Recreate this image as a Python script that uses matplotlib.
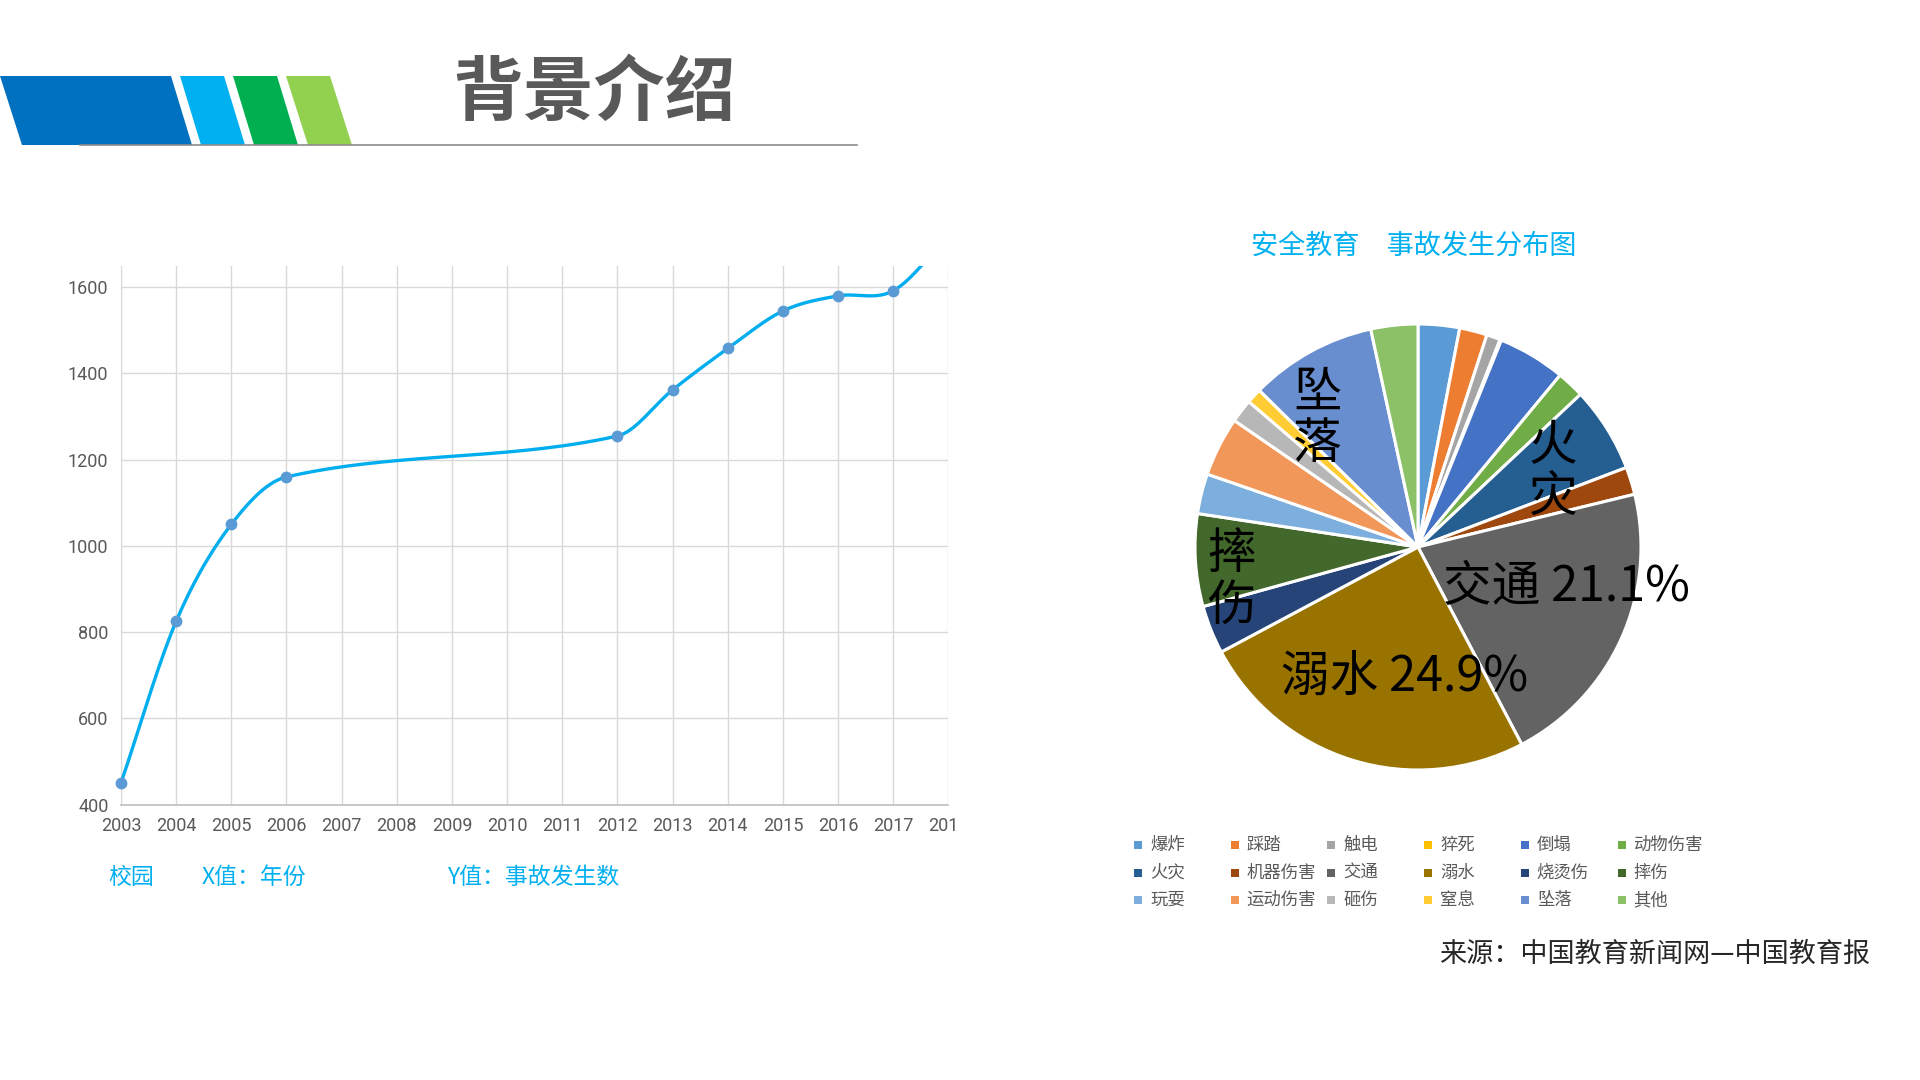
import matplotlib

matplotlib.use("Agg")
import matplotlib.pyplot as plt
import numpy as np
from matplotlib.patches import Polygon, Rectangle
from matplotlib.transforms import Bbox, TransformedBbox

plt.rcParams["font.family"] = ["Noto Sans CJK SC", "DejaVu Sans"]

# ---- data -------------------------------------------------------------
YEARS = [2003, 2004, 2005, 2006, 2012, 2013, 2014, 2015, 2016, 2017, 2018]
ACCIDENTS = [450, 825, 1050, 1160, 1255, 1362, 1458, 1545, 1580, 1592, 1720]
YEAR_TICKS = list(range(2003, 2019))
Y_TICKS = [400, 600, 800, 1000, 1200, 1400, 1600]

CATEGORIES = ["爆炸", "踩踏", "触电", "猝死", "倒塌", "动物伤害",
              "火灾", "机器伤害", "交通", "溺水", "烧烫伤", "摔伤",
              "玩耍", "运动伤害", "砸伤", "窒息", "坠落", "其他"]
SHARES = [3.0, 2.0, 1.0, 0.1, 4.9, 2.0,
          6.2, 2.0, 21.1, 24.9, 3.5, 6.7,
          2.9, 4.3, 1.7, 1.1, 9.2, 3.4]
PIE_COLORS = ["#5B9BD5", "#ED7D31", "#A5A5A5", "#FFC000", "#4472C4", "#70AD47",
              "#255E91", "#9E480E", "#636363", "#997300", "#264478", "#43682B",
              "#7CAFDD", "#F1975A", "#B7B7B7", "#FFCD33", "#698ED0", "#8CC168"]

# label anchor on the pie: (clockwise angle from 12 o'clock, radius fraction)
LABEL_POS = {
    "坠落": ("坠\n落", 322, 0.73),
    "火灾": ("火\n灾", 61, 0.69),
    "摔伤": ("摔\n伤", 260, 0.85),
    "交通": ("交通 21.1%", 105, 0.69),
    "溺水": ("溺水 24.9%", 186, 0.585),
}

BLUE_TEXT = "#00B0F0"
GREY_TEXT = "#595959"


def smooth_curve(xs, ys, n=60):
    """Smoothed line drawn through the points (cubic Hermite, y as function of x)."""
    x = np.asarray(xs, dtype=float)
    y = np.asarray(ys, dtype=float)
    m = np.empty_like(y)
    m[1:-1] = (y[2:] - y[:-2]) / (x[2:] - x[:-2])
    m[0] = (y[1] - y[0]) / (x[1] - x[0])
    m[-1] = (y[-1] - y[-2]) / (x[-1] - x[-2])
    out_x, out_y = [], []
    for i in range(len(x) - 1):
        h = x[i + 1] - x[i]
        t = np.linspace(0, 1, n)
        h00 = 2 * t ** 3 - 3 * t ** 2 + 1
        h10 = t ** 3 - 2 * t ** 2 + t
        h01 = -2 * t ** 3 + 3 * t ** 2
        h11 = t ** 3 - t ** 2
        out_x.append(x[i] + t * h)
        out_y.append(h00 * y[i] + h10 * h * m[i] + h01 * y[i + 1] + h11 * h * m[i + 1])
    return np.concatenate(out_x), np.concatenate(out_y)


fig = plt.figure(figsize=(19.2, 10.8), dpi=100, facecolor="white")

# ---- header banner ----------------------------------------------------
W, H = 1920.0, 1080.0


def px(x, y):
    return (x / W, 1 - y / H)


bands = [
    ("#0070C0", 0, 171, 22, 192),
    ("#00B0F0", 180, 224, 201, 245),
    ("#00B050", 233, 277, 254, 298),
    ("#92D050", 286, 330, 308, 352),
]
for color, tl, tr, bl, br in bands:
    poly = Polygon([px(tl, 76), px(tr, 76), px(br, 145), px(bl, 145)],
                   closed=True, transform=fig.transFigure, facecolor=color,
                   edgecolor="none")
    fig.add_artist(poly)
fig.add_artist(plt.Line2D([80 / W, 857 / W], [1 - 145 / H, 1 - 145 / H],
                          transform=fig.transFigure, color="#8C8C8C", lw=1.2))
fig.text(594 / W, 1 - 94 / H, "背景介绍", ha="center", va="center",
         fontsize=51, fontweight="bold", color=GREY_TEXT)

# ---- line chart -------------------------------------------------------
ax = fig.add_axes([0.063, 0.255, 0.431, 0.499])
cx, cy = smooth_curve(YEARS, ACCIDENTS)
ax.plot(cx, cy, color="#00ADEE", lw=2.4, solid_capstyle="round", zorder=3)
yr = np.array(YEARS)
acc = np.array(ACCIDENTS)
ylim_top = 1650
vis = acc <= ylim_top
ax.plot(yr[vis], acc[vis], "o", color="#5B9BD5", markersize=8.5,
        markeredgewidth=0, clip_on=False, zorder=4)
ax.set_xlim(2003, 2018)
ax.set_ylim(400, ylim_top)
ax.set_xticks(YEAR_TICKS)
ax.set_yticks(Y_TICKS)
ax.set_xticklabels([str(y) for y in YEAR_TICKS])
ax.grid(True, color="#D9D9D9", lw=1.0)
ax.set_axisbelow(True)
for side in ["top", "right"]:
    ax.spines[side].set_visible(False)
ax.spines["left"].set_color("#D9D9D9")
ax.spines["bottom"].set_color("#BFBFBF")
ax.spines["bottom"].set_linewidth(1.2)
ax.tick_params(length=0, labelsize=13, labelcolor=GREY_TEXT, pad=9)
for lab in ax.get_xticklabels() + ax.get_yticklabels():
    lab.set_fontfamily(["Roboto", "DejaVu Sans"])
    lab.set_fontweight("normal")
clip = TransformedBbox(Bbox([[0, 0], [956 / W, 1]]), fig.transFigure)
for lab in ax.get_xticklabels():
    lab.set_clip_box(clip)
    lab.set_clip_on(True)

fig.text(108 / W, 1 - 877 / H, "校园", ha="left", va="center", fontsize=16.5, color=BLUE_TEXT)
fig.text(202 / W, 1 - 877 / H, "X值：年份", ha="left", va="center", fontsize=16.5, color=BLUE_TEXT)
fig.text(447 / W, 1 - 877 / H, "Y值：事故发生数", ha="left", va="center", fontsize=16.5, color=BLUE_TEXT)

# ---- pie chart --------------------------------------------------------
pie_r = 223
pcx, pcy = 1418, 547
pax = fig.add_axes([(pcx - pie_r) / W, 1 - (pcy + pie_r) / H, 2 * pie_r / W, 2 * pie_r / H])
wedges, _ = pax.pie(SHARES, colors=PIE_COLORS, startangle=90, counterclock=False,
                    wedgeprops=dict(edgecolor="white", linewidth=2.2))
pax.set_xlim(-1.0, 1.0)
pax.set_ylim(-1.0, 1.0)
pax.set_aspect("equal")
pax.axis("off")
for name, (text, theta, rad) in LABEL_POS.items():
    th = np.deg2rad(theta)
    pax.text(rad * np.sin(th), rad * np.cos(th), text, ha="center", va="center",
             fontsize=35, color="black", linespacing=1.05, zorder=5)

fig.text(1414 / W, 1 - 246 / H, "安全教育　事故发生分布图", ha="center", va="center",
         fontsize=19.5, color=BLUE_TEXT)

# legend laid out as Excel does: 6 equal columns, filled row by row
leg_x0, leg_dx = 1138, 96.7
leg_y0, leg_dy = 845, 27.5
for i, (name, color) in enumerate(zip(CATEGORIES, PIE_COLORS)):
    row, col = divmod(i, 6)
    x = leg_x0 + col * leg_dx
    y = leg_y0 + row * leg_dy
    fig.add_artist(Rectangle(((x - 4) / W, 1 - (y + 4) / H), 8 / W, 8 / H,
                             transform=fig.transFigure, facecolor=color, edgecolor="none"))
    fig.text((x + 12) / W, 1 - y / H, name, ha="left", va="center",
             fontsize=12.5, color=GREY_TEXT)

fig.text(1870 / W, 1 - 954 / H, "来源：中国教育新闻网—中国教育报", ha="right", va="center",
         fontsize=19.5, color="#262626")

fig.savefig("out.png", dpi=100, facecolor="white")
